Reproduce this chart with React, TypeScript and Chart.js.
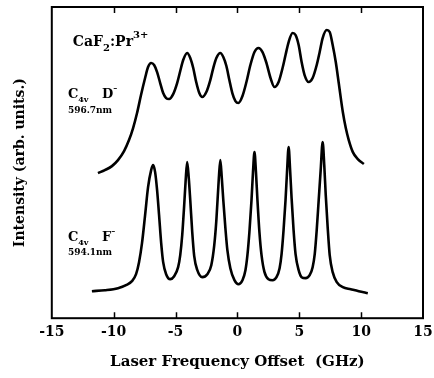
import React, { useEffect, useRef } from "react";
import { Chart, registerables } from "chart.js";

Chart.register(...registerables);

// Upper trace: C4v D- centre (596.7 nm)
const freqD = [
  -11.27, -10.71, -10.14, -9.65, -9.16, -8.76, -8.43, -8.11, -7.79, -7.46,
  -7.22, -6.97, -6.73, -6.49, -6.24, -6.0, -5.76, -5.52, -5.19, -4.87,
  -4.62, -4.38, -4.06, -3.81, -3.57, -3.33, -3.08, -2.84, -2.51, -2.19,
  -1.95, -1.7, -1.38, -1.14, -0.89, -0.65, -0.41, -0.16, 0.08, 0.41,
  0.73, 1.05, 1.38, 1.7, 2.03, 2.35, 2.68, 3.0, 3.33, 3.65,
  3.89, 4.14, 4.46, 4.7, 4.95, 5.19, 5.43, 5.76, 6.08, 6.41,
  6.65, 6.89, 7.22, 7.46, 7.7, 7.95, 8.19, 8.52, 8.76, 9.0,
  9.33, 9.73, 10.22,
];
const intensD = [
  145, 148, 152, 158, 167, 178, 190, 205, 223, 240,
  251, 255, 253, 246, 235, 225, 220, 219, 224, 235,
  247, 258, 265, 260, 250, 236, 225, 221, 226, 238,
  250, 260, 265, 261, 252, 238, 225, 217, 215, 222,
  236, 253, 266, 270, 266, 255, 240, 231, 236, 250,
  263, 276, 285, 283, 273, 256, 243, 236, 240, 253,
  266, 280, 288, 286, 273, 256, 235, 206, 190, 178,
  166, 159, 154,
];

// Lower trace: C4v F- centre (594.1 nm)
const freqF = [
  -11.76, -10.71, -9.65, -9.0, -8.52, -8.19, -7.95, -7.71, -7.46, -7.22,
  -6.97, -6.81, -6.65, -6.49, -6.33, -6.16, -6.0, -5.76, -5.43, -5.11,
  -4.79, -4.62, -4.46, -4.3, -4.18, -4.06, -3.93, -3.81, -3.65, -3.49,
  -3.24, -2.84, -2.43, -2.11, -1.87, -1.7, -1.5, -1.38, -1.26, -1.14,
  -0.97, -0.81, -0.57, -0.24, 0.08, 0.41, 0.65, 0.81, 0.97, 1.14,
  1.26, 1.38, 1.5, 1.62, 1.78, 1.95, 2.19, 2.51, 2.84, 3.16,
  3.41, 3.57, 3.73, 3.89, 4.01, 4.14, 4.26, 4.38, 4.54, 4.7,
  4.95, 5.19, 5.51, 5.84, 6.08, 6.25, 6.41, 6.57, 6.73, 6.89,
  7.02, 7.14, 7.3, 7.46, 7.7, 8.03, 8.52, 9.16, 9.81, 10.54,
];
const intensF = [
  27, 28, 30, 33, 37, 44, 56, 75, 103, 131,
  148, 153, 146, 128, 103, 75, 56, 44, 39, 42,
  51, 63, 83, 113, 138, 156, 140, 118, 86, 62,
  48, 41, 44, 53, 73, 98, 140, 158, 140, 118,
  90, 68, 50, 38, 34, 38, 48, 63, 86, 118,
  146, 166, 146, 118, 86, 63, 46, 39, 38, 41,
  50, 64, 88, 118, 146, 171, 148, 120, 88, 64,
  48, 41, 40, 43, 51, 64, 88, 118, 148, 176,
  153, 123, 90, 63, 46, 36, 31, 29, 27, 25,
];

const xTickValues = [-15, -10, -5, 0, 5, 10, 15];
const xInnerTicks = [-10, -5, 0, 5, 10];

const SERIF = '"DejaVu Serif", serif';

type Seg = { t: string; size: number; dy: number; bold?: boolean };

function drawRich(ctx: CanvasRenderingContext2D, segs: Seg[], x: number, y: number) {
  let cx = x;
  for (const s of segs) {
    ctx.font = `${s.bold === false ? "normal" : "bold"} ${s.size}px ${SERIF}`;
    ctx.fillText(s.t, cx, y + s.dy);
    cx += ctx.measureText(s.t).width;
  }
}

const framePlugin = {
  id: "frameAndLabels",
  afterDraw(chart: any) {
    const { ctx, chartArea, scales } = chart;
    const xs = scales.x;
    const ys = scales.y;
    ctx.save();
    ctx.strokeStyle = "#000";
    ctx.lineWidth = 2;
    ctx.strokeRect(chartArea.left, chartArea.top, chartArea.right - chartArea.left, chartArea.bottom - chartArea.top);
    ctx.lineWidth = 1.5;
    for (const v of xInnerTicks) {
      const px = Math.round(xs.getPixelForValue(v)) + 0.5;
      ctx.beginPath();
      ctx.moveTo(px, chartArea.bottom);
      ctx.lineTo(px, chartArea.bottom - 6);
      ctx.moveTo(px, chartArea.top);
      ctx.lineTo(px, chartArea.top + 6);
      ctx.stroke();
    }
    ctx.fillStyle = "#000";
    ctx.textBaseline = "alphabetic";
    ctx.textAlign = "left";
    drawRich(
      ctx,
      [
        { t: "CaF", size: 14, dy: 0 },
        { t: "2", size: 10, dy: 5 },
        { t: ":Pr", size: 14, dy: 0 },
        { t: "3+", size: 10, dy: -8 },
      ],
      xs.getPixelForValue(-13.3),
      ys.getPixelForValue(272)
    );
    const lx = xs.getPixelForValue(-13.7);
    drawRich(
      ctx,
      [
        { t: "C", size: 13, dy: 0 },
        { t: "4v", size: 8, dy: 4 },
        { t: "   D", size: 13, dy: 0 },
        { t: "\u2013", size: 8, dy: -8 },
      ],
      lx,
      ys.getPixelForValue(220)
    );
    drawRich(ctx, [{ t: "596.7nm", size: 9, dy: 0 }], lx, ys.getPixelForValue(205));
    drawRich(
      ctx,
      [
        { t: "C", size: 13, dy: 0 },
        { t: "4v", size: 8, dy: 4 },
        { t: "   F", size: 13, dy: 0 },
        { t: "\u2013", size: 8, dy: -8 },
      ],
      lx,
      ys.getPixelForValue(77)
    );
    drawRich(ctx, [{ t: "594.1nm", size: 9, dy: 0 }], lx, ys.getPixelForValue(63));
    ctx.restore();
  },
};

export default function App() {
  const canvasRef = useRef<HTMLCanvasElement | null>(null);

  useEffect(() => {
    const canvas = canvasRef.current;
    if (!canvas) return;
    const chart = new Chart(canvas, {
      type: "line",
      data: {
        datasets: [
          {
            label: "C4v D- 596.7nm",
            data: freqD.map((x, i) => ({ x, y: intensD[i] })),
            borderColor: "#000",
            borderWidth: 2.6,
            pointRadius: 0,
            cubicInterpolationMode: "monotone",
            fill: false,
          },
          {
            label: "C4v F- 594.1nm",
            data: freqF.map((x, i) => ({ x, y: intensF[i] })),
            borderColor: "#000",
            borderWidth: 2.6,
            pointRadius: 0,
            cubicInterpolationMode: "monotone",
            fill: false,
          },
        ],
      },
      options: {
        responsive: false,
        animation: false,
        layout: { padding: { left: 4, right: 11, top: 7, bottom: 0 } },
        plugins: { legend: { display: false }, tooltip: { enabled: false } },
        scales: {
          x: {
            type: "linear",
            min: -15,
            max: 15,
            afterBuildTicks: (axis: any) => {
              axis.ticks = xTickValues.map((v) => ({ value: v }));
            },
            afterFit: (axis: any) => {
              axis.paddingRight = 0;
              axis.paddingLeft = 0;
            },
            grid: { display: false, drawTicks: false, tickLength: 0 },
            border: { display: false },
            ticks: {
              color: "#000",
              padding: 6,
              font: { family: SERIF, size: 14, weight: "bold" },
            },
            title: {
              display: true,
              text: "Laser Frequency Offset  (GHz)",
              color: "#000",
              font: { family: SERIF, size: 15, weight: "bold" },
              padding: { top: 6, bottom: 7 },
            },
          },
          y: {
            type: "linear",
            min: 0,
            max: 311,
            grid: { display: false, drawTicks: false, tickLength: 0 },
            border: { display: false },
            ticks: { display: false },
            title: {
              display: true,
              text: "Intensity (arb. units.)",
              color: "#000",
              font: { family: SERIF, size: 14, weight: "bold" },
              padding: { top: 8, bottom: 23 },
            },
          },
        },
      },
      plugins: [framePlugin],
    } as any);
    return () => chart.destroy();
  }, []);

  return (
    <div style={{ position: "absolute", left: 0, top: 0, width: 434, height: 378, background: "#fff" }}>
      <canvas ref={canvasRef} width={434} height={378} style={{ display: "block" }} />
    </div>
  );
}
